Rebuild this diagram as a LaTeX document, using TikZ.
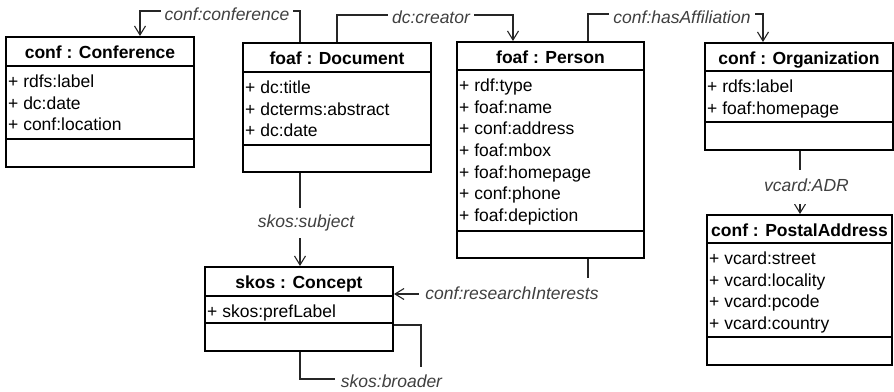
\documentclass[tikz,border=0pt]{standalone}
\usepackage{fontspec}
\setmainfont{Liberation Sans}
\usetikzlibrary{arrows.meta}
\begin{document}
\begin{tikzpicture}[x=1pt,y=-1pt,
  box/.style={draw, line width=2pt, inner sep=0pt},
  sep/.style={line width=2pt},
  hdr/.style={font=\fontsize{17.5pt}{21pt}\selectfont\bfseries, anchor=base, inner sep=0pt},
  attr/.style={font=\fontsize{17.5pt}{21pt}\selectfont, anchor=base west, inner sep=0pt},
  conn/.style={line width=1.1pt, draw=black!85},
  arr/.style={conn, -{Straight Barb[length=9pt,width=11pt]}},
  lbl/.style={font=\fontsize{17.5pt}{21pt}\selectfont\itshape, text=black!75, fill=white,
    inner xsep=4pt, inner ysep=0pt, text height=12.5pt, text depth=3.5pt}]
\useasboundingbox[fill=white] (0,0) rectangle (894,391);

% ---------- conf : Conference ----------
\node[box, minimum width=188pt, minimum height=130pt] (conf) at (100,102) {};
\draw[sep] (conf.west |- 0,66) -- (conf.east |- 0,66);
\draw[sep] (conf.west |- 0,139) -- (conf.east |- 0,139);
\node[hdr] (confH) at (100,58.5) {conf : Conference};
\foreach \t [count=\i] in {+ rdfs:label, + dc:date, + conf:location}
  \node[attr] (confA\i) at (8,{66+21.6*\i}) {\t};

% ---------- foaf : Document ----------
\node[box, minimum width=188pt, minimum height=129pt] (doc) at (337,107.5) {};
\draw[sep] (doc.west |- 0,72) -- (doc.east |- 0,72);
\draw[sep] (doc.west |- 0,145) -- (doc.east |- 0,145);
\node[hdr] (docH) at (337,64) {foaf : Document};
\foreach \t [count=\i] in {+ dc:title, + dcterms:abstract, + dc:date}
  \node[attr] (docA\i) at (245,{72+21.6*\i}) {\t};

% ---------- foaf : Person ----------
\node[box, minimum width=187pt, minimum height=216pt] (person) at (550.5,150) {};
\draw[sep] (person.west |- 0,70) -- (person.east |- 0,70);
\draw[sep] (person.west |- 0,231) -- (person.east |- 0,231);
\node[hdr] (personH) at (550.5,63) {foaf : Person};
\foreach \t [count=\i] in {+ rdf:type, + foaf:name, + conf:address, + foaf:mbox, + foaf:homepage, + conf:phone, + foaf:depiction}
  \node[attr] (personA\i) at (459,{70+21.6*\i}) {\t};

% ---------- conf : Organization ----------
\node[box, minimum width=188pt, minimum height=107pt] (org) at (799,96.5) {};
\draw[sep] (org.west |- 0,71) -- (org.east |- 0,71);
\draw[sep] (org.west |- 0,122) -- (org.east |- 0,122);
\node[hdr] (orgH) at (799,64) {conf : Organization};
\foreach \t [count=\i] in {+ rdfs:label, + foaf:homepage}
  \node[attr] (orgA\i) at (707,{71+21.6*\i}) {\t};

% ---------- conf : PostalAddress ----------
\node[box, minimum width=185pt, minimum height=150pt] (postal) at (799.5,290) {};
\draw[sep] (postal.west |- 0,243) -- (postal.east |- 0,243);
\draw[sep] (postal.west |- 0,337) -- (postal.east |- 0,337);
\node[hdr] (postalH) at (799.5,236) {conf : PostalAddress};
\foreach \t [count=\i] in {+ vcard:street, + vcard:locality, + vcard:pcode, + vcard:country}
  \node[attr] (postalA\i) at (709,{243+21.6*\i}) {\t};

% ---------- skos : Concept ----------
\node[box, minimum width=188pt, minimum height=84pt] (concept) at (299,309) {};
\draw[sep] (concept.west |- 0,296) -- (concept.east |- 0,296);
\draw[sep] (concept.west |- 0,323) -- (concept.east |- 0,323);
\node[hdr] (conceptH) at (299,288.5) {skos : Concept};
\node[attr] (conceptA1) at (207,317.5) {+ skos:prefLabel};

% ---------- connectors ----------
\draw[arr] (doc.north -| 300,0) -- (300,11) -- (140,11) -- (conf.north -| 140,0);
\draw[arr] (doc.north -| 337,0) -- (337,15) -- (513,15) -- (person.north -| 513,0);
\draw[arr] (person.north -| 588,0) -- (588,14) -- (763,14) -- (org.north -| 763,0);
\draw[arr] (doc.south -| 300,0) -- (concept.north -| 300,0);
\draw[arr] (org.south -| 800,0) -- (postal.north -| 800,0);
\draw[arr] (person.south -| 588,0) -- (588,294) -- (concept.east |- 0,294);
\draw[conn] (concept.east |- 0,325) -- (421,325) -- (421,379) -- (300,379) -- (concept.south -| 300,0);

% ---------- labels ----------
\node[lbl] (lConf) at (227,15.5) {conf:conference};
\node[lbl] (lCreator) at (431,18.5) {dc:creator};
\node[lbl] (lAff) at (682,18.5) {conf:hasAffiliation};
\node[lbl, minimum height=30pt] (lSubj) at (306,222.5) {skos:subject};
\node[lbl, minimum height=34pt] (lADR) at (806.5,186.5) {vcard:ADR};
\node[lbl, minimum height=33pt, inner xsep=6pt] (lRI) at (512,294.5) {conf:researchInterests};
\node[lbl, minimum height=31pt, inner xsep=6pt] (lBr) at (391.5,382.5) {skos:broader};
\end{tikzpicture}
\end{document}
